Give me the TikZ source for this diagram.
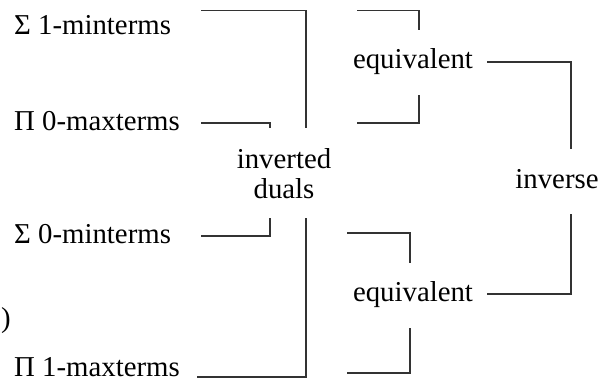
\documentclass[tikz,border=0pt]{standalone}
\usepackage{fontspec}
\setmainfont{Liberation Serif}
\begin{document}
\begin{tikzpicture}[x=1pt,y=-1pt,
  lbl/.style={inner sep=0pt,font=\fontsize{28.8}{30}\selectfont,text=black},
  conn/.style={draw=black!80,line width=1.1pt}]
\useasboundingbox (0,0) rectangle (606,384);
% labels
\node[lbl,anchor=base west] (s1) at (14,34) {Σ 1-minterms};
\node[lbl,anchor=base west] (p0) at (14,130) {Π 0-maxterms};
\node[lbl,anchor=base west] (s0) at (14,243) {Σ 0-minterms};
\node[lbl,anchor=base west] (par) at (1,327) {)};
\node[lbl,anchor=base west] (p1) at (14,376) {Π 1-maxterms};
\node[lbl,align=center,anchor=center] (inv) at (284,173.5) {inverted\\duals};
\node[lbl,anchor=base] (eq1) at (413,68) {equivalent};
\node[lbl,anchor=base] (eq2) at (413,301) {equivalent};
\node[lbl,anchor=base] (ivs) at (557,188) {inverse};
% connector end points
\coordinate (a1) at (201,10.7);  \coordinate (a2) at (306,128);
\coordinate (b1) at (201,123);   \coordinate (b2) at (270,128);
\coordinate (c1) at (201,236);   \coordinate (c2) at (270,218);
\coordinate (d1) at (197,377);   \coordinate (d2) at (306,218);
\coordinate (e1) at (357,10.7);  \coordinate (e2) at (419,30);
\coordinate (f1) at (357,123);   \coordinate (f2) at (419,95);
\coordinate (g1) at (487,62);    \coordinate (g2) at (571,149);
\coordinate (h1) at (347,233);   \coordinate (h2) at (410,263);
\coordinate (k1) at (347,373);   \coordinate (k2) at (410,328);
\coordinate (m1) at (487,294);   \coordinate (m2) at (571,214);
% connectors
\draw[conn] (a1) -| (a2);
\draw[conn] (b1) -| (b2);
\draw[conn] (c1) -| (c2);
\draw[conn] (d1) -| (d2);
\draw[conn] (e1) -| (e2);
\draw[conn] (f1) -| (f2);
\draw[conn] (g1) -| (g2);
\draw[conn] (h1) -| (h2);
\draw[conn] (k1) -| (k2);
\draw[conn] (m1) -| (m2);
\end{tikzpicture}
\end{document}
